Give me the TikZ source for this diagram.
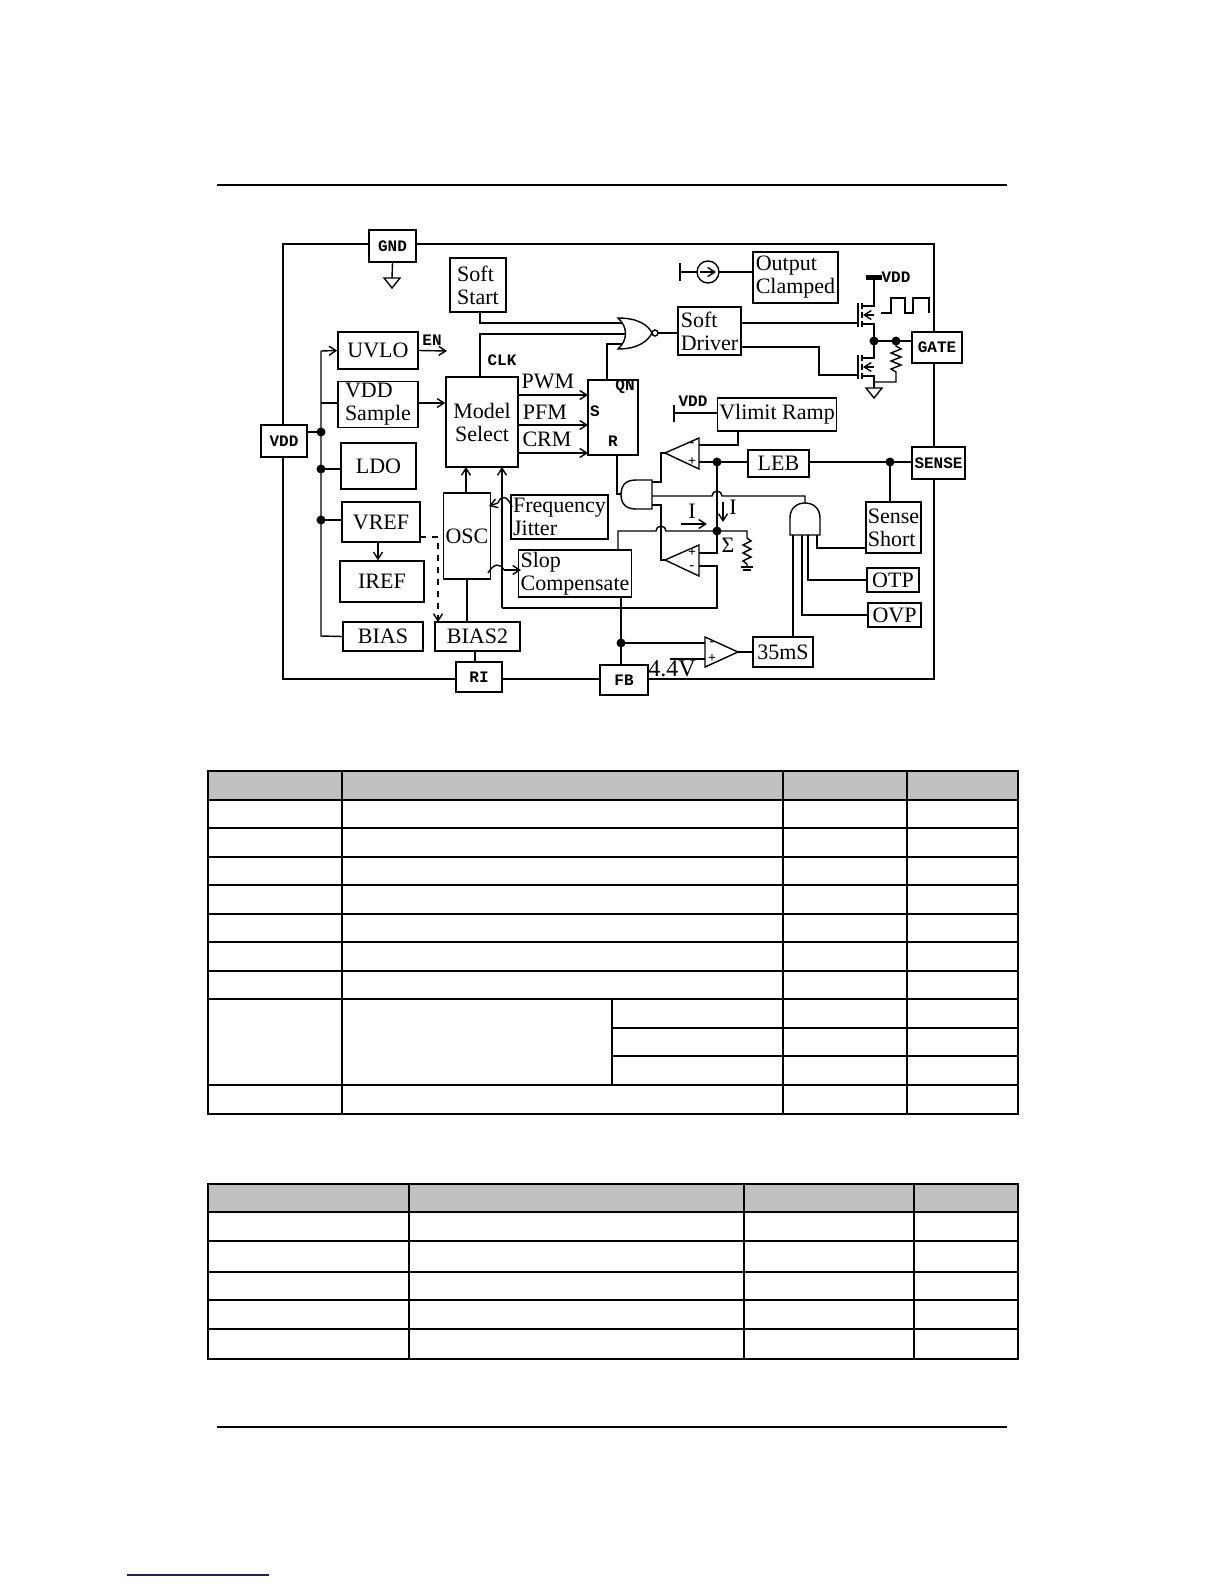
\documentclass[tikz,border=0pt]{standalone}
\usepackage{fontspec}
\setmainfont{Liberation Serif}
\newfontfamily\monof{Liberation Mono}
\usetikzlibrary{arrows.meta}
\definecolor{hdr}{HTML}{C0C0C0}
\definecolor{lnk}{HTML}{1A1A80}
\newcommand\bx[7][box]{\node[#1, minimum width={(#5-#3)*0.5pt}, minimum height={(#6-#4)*0.5pt}] (#2) at ({(#3+#5)/2},{(#4+#6)/2}) {#7};}
\begin{document}
\begin{tikzpicture}[x=0.5pt,y=-0.5pt, line width=0.7pt,
 box/.style={draw, fill=white, inner sep=1pt, font=\fontsize{11}{11.5}\selectfont, align=left},
 cbox/.style={box, align=center},
 pin/.style={draw, fill=white, inner sep=1pt, font=\monof\bfseries\fontsize{8}{9}\selectfont},
 lbl/.style={inner sep=0, font=\fontsize{11}{11.5}\selectfont},
 mlbl/.style={inner sep=0, font=\monof\bfseries\fontsize{8}{9}\selectfont},
 sgn/.style={inner sep=0, font=\bfseries\fontsize{7}{7}\selectfont},
 arr/.style={-{Straight Barb[length=3.5pt,width=4.5pt]}},
 dot/.style={circle, fill, inner sep=0, minimum size=4.5pt},
 tbl/.style={line width=1pt}]
\useasboundingbox (0,0) rectangle (1224,1584);
% rules
\draw[line width=1.3pt] (217,185) -- (1007,185);
\draw[line width=1.3pt] (217,1427) -- (1007,1427);
\draw[lnk, line width=0.6pt] (127,1575) -- (269,1575);
% outer border
\draw (283,244) rectangle (934,679);
% pins
\bx[pin]{gnd}{369}{230}{416}{262}{GND}
\bx[pin]{vdd}{261}{425}{307}{457}{VDD}
\bx[pin]{ri}{456}{662}{502}{692}{RI}
\bx[pin]{fb}{600}{665}{648}{695}{FB}
\bx[pin]{gate}{912}{332}{962}{363}{GATE}
\bx[pin]{sense}{912}{447}{965}{479}{SENSE}
% blocks
\bx{softstart}{450}{258}{506}{312}{Soft\\Start}
\bx{outclamp}{753}{252}{838}{303}{Output\\Clamped}
\bx[cbox]{uvlo}{338}{332}{418}{369}{UVLO}
\bx{vddsample}{338}{382}{418}{427}{VDD\\Sample}
\bx[cbox]{model}{446}{377}{518}{467}{Model\\Select}
\bx[cbox]{ldo}{341}{443}{416}{489}{LDO}
\bx{vref}{342}{502}{420}{542}{VREF}
\bx[cbox]{iref}{340}{561}{424}{602}{IREF}
\bx[cbox]{bias}{343}{622}{423}{651}{BIAS}
\bx[cbox]{bias2}{435}{622}{520}{651}{BIAS2}
\bx[cbox]{osc}{446}{493}{488}{579}{OSC}
\bx{jitter}{512}{495}{607}{539}{Frequency\\Jitter}
\bx{slop}{522}{550}{628}{597}{Slop\\Compensate}
\bx{sr}{588}{380}{638}{455}{}
\bx{softdrv}{678}{307}{741}{355}{Soft\\Driver}
\bx[cbox]{vlimit}{721}{398}{833}{431}{Vlimit Ramp}
\bx[cbox]{leb}{748}{450}{809}{477}{LEB}
\bx{sshort}{866}{502}{921}{553}{Sense\\Short}
\bx[cbox]{otp}{867}{568}{919}{592}{OTP}
\bx[cbox]{ovp}{868}{603}{921}{627}{OVP}
\bx[cbox]{ms35}{753}{637}{813}{667}{35mS}
% GND
\draw (gnd.south) -- (392,278);
\draw (384,278) -- (400,278) -- (392,288) -- cycle;
% VDD bus
\draw (vdd.east |- 0,432) -- (321,432);
\draw (321,351) -- (321,636) -- (bias.west);
\draw[arr] (321,351) -- (uvlo.west);
\draw (321,403) -- (vddsample.west |- 0,403);
\draw (321,469) -- (ldo.west |- 0,469);
\draw (321,520) -- (vref.west |- 0,520);
\node[dot] at (321,432) {}; \node[dot] at (321,469) {}; \node[dot] at (321,520) {};
\draw[arr] (uvlo.east) -- (447,351);
\node[mlbl] at (432,340) {EN};
\draw[arr] (vddsample.east |- 0,403) -- (model.west |- 0,403);
\draw[arr] (378,542) -- (iref.north -| 378,0);
\draw[dashed, arr] (420,537) -- (438,537) -- (438,622);
\draw[arr] (osc.north -| 466,0) -- (466,467);
\draw (osc.south -| 467,0) -- (bias2.north -| 467,0);
\draw (bias2.south -| 475,0) -- (ri.north -| 475,0);
% wavy arrows
\draw (512,507) .. controls (507,495) and (501,495) .. (498,503);
\draw[arr] (498,503) -- (489,506);
\draw (488,573) .. controls (494,563) and (500,563) .. (504,570);
\draw[arr] (504,570) -- (521,570);
\draw[arr] (502,608) -- (502,467);
\draw (502,608) -- (717,608) -- (717,566) -- (699,566);
% model outputs
\draw[arr] (518,395) -- (588,395);
\draw[arr] (518,425) -- (588,425);
\draw[arr] (518,453) -- (588,453);
\node[lbl] at (548,381) {PWM};
\node[lbl] at (545,412) {PFM};
\node[lbl] at (547,439) {CRM};
\node[mlbl] at (595,411) {S};
\node[mlbl] at (625,387) {QN};
\node[mlbl] at (613,441) {R};
\node[mlbl] at (502,360) {CLK};
% NOR inputs
\draw (480,377) -- (480,334) -- (626,334);
\draw (480,312) -- (480,323) -- (626,323);
\draw (607,380) -- (607,344) -- (626,344);
% NOR gate
\draw[fill=white] (618,318) .. controls (638,318) and (648,325) .. (652,333)
  .. controls (648,341) and (638,349) .. (618,349)
  .. controls (628,340) and (628,327) .. (618,318) -- cycle;
\draw (655,333) circle[radius=3];
\draw (658,333) -- (softdrv.west |- 0,333);
% current source
\draw (680,263) -- (680,281);
\draw (680,272) -- (697,272);
\draw (708,272) circle[radius=11];
\draw[arr] (700,272) -- (716,272);
\draw (719,272) -- (outclamp.west |- 0,272);
% MOSFETs
\draw (softdrv.east |- 0,323) -- (858,323);
\draw (858,303) -- (858,327);
\draw (862,303) -- (862,309) (862,312) -- (862,318) (862,321) -- (862,327);
\draw (862,306) -- (874,306) -- (874,277);
\draw[line width=2.5pt] (866,277) -- (882,277);
\node[mlbl] at (896,277) {VDD};
\draw (862,324) -- (874,324) -- (874,341);
\draw[arr] (874,315) -- (863,315);
\draw (softdrv.east |- 0,347) -- (819,347) -- (819,375) -- (858,375);
\draw (858,355) -- (858,379);
\draw (862,355) -- (862,361) (862,364) -- (862,370) (862,373) -- (862,379);
\draw (862,358) -- (874,358) -- (874,341);
\draw (862,376) -- (874,376) -- (874,388);
\draw[arr] (874,367) -- (863,367);
\draw (866,388) -- (882,388) -- (874,398) -- cycle;
\draw (874,341) -- (gate.west |- 0,341);
\node[dot] at (874,341) {}; \node[dot] at (896,341) {};
\draw (896,341) -- (896,346) -- (901,349) -- (891,353) -- (901,357) -- (891,361) -- (901,365) -- (891,369) -- (896,372) -- (896,382) -- (874,382);
\draw (881,313) -- (891,313) -- (891,298) -- (905,298) -- (905,313) -- (913,313) -- (913,298) -- (929,298) -- (929,313);
% Vlimit
\draw (674,405) -- (674,422);
\draw (674,413) -- (vlimit.west |- 0,413);
\node[mlbl] at (693,401) {VDD};
\draw (738,431) -- (738,445) -- (699,445);
% top comparator
\draw (699,438) -- (699,469) -- (665,453) -- cycle;
\node[sgn] at (692,445) {-}; \node[sgn] at (692,462) {+};
\draw (699,462) -- (leb.west |- 0,462);
\draw (leb.east |- 0,462) -- (sense.west |- 0,462);
\node[dot] at (717,462) {}; \node[dot] at (890,462) {};
\draw (890,462) -- (sshort.north -| 890,0);
\draw (665,453) -- (661,453) -- (661,482) -- (652,482);
% left AND gate
\draw (652,480) -- (636,480) .. controls (624,480) and (621,487) .. (621,494)
  .. controls (621,502) and (624,509) .. (636,509) -- (652,509) -- cycle;
\draw (621,494) -- (617,494) -- (617,455);
\draw (652,496) -- (712,496) arc[start angle=180, end angle=360, radius=5] -- (805,496) -- (805,503);
\draw (717,462) -- (717,553) -- (699,553);
\node[dot] at (717,531) {};
\draw (652,505) -- (661,505) -- (661,560) -- (665,560);
\draw (618,550) -- (618,531) -- (656,531) arc[start angle=180, end angle=360, radius=5] -- (717,531);
% lower comparator
\draw (699,545) -- (699,576) -- (665,560) -- cycle;
\node[sgn] at (692,553) {+}; \node[sgn] at (692,568) {-};
\draw[arr] (723,502) -- (723,522);
\node[lbl] at (733,507) {I};
\draw[arr] (681,524) -- (707,524);
\node[lbl] at (692,511) {I};
\node[lbl] at (728,545) {Σ};
\draw (717,531) -- (747,531) -- (747,538) -- (751,541) -- (743,545) -- (751,549) -- (743,553) -- (751,557) -- (743,561) -- (747,564) -- (747,567);
\draw (741,567) -- (753,567) (743,570) -- (751,570);
% vertical AND gate
\draw (790,535) -- (790,518) .. controls (790,508) and (797,503) .. (805,503)
  .. controls (813,503) and (820,508) .. (820,518) -- (820,535) -- cycle;
\draw (793,535) -- (793,637);
\draw (802,535) -- (802,615) -- (ovp.west |- 0,615);
\draw (808,535) -- (808,580) -- (otp.west |- 0,580);
\draw (817,535) -- (817,548) -- (sshort.west |- 0,548);
% bottom comparator
\draw (705,637) -- (705,667) -- (738,652) -- cycle;
\node[sgn] at (712,644) {-}; \node[sgn] at (712,659) {+};
\draw (738,652) -- (ms35.west);
\draw (621,597) -- (fb.north -| 621,0);
\node[dot] at (621,643) {};
\draw (621,643) -- (705,643);
\draw (670,659) -- (705,659);
\node[lbl, font=\fontsize{12}{12}\selectfont] at (672,669) {4.4V};
% table 1
\fill[hdr] (208,771) rectangle (1018,800);
\begin{scope}[tbl]
\draw (208,771) rectangle (1018,1114);
\foreach \y in {800,828,857,885,914,942,971,999,1085} \draw (208,\y) -- (1018,\y);
\foreach \y in {1028,1056} \draw (612,\y) -- (1018,\y);
\draw (612,999) -- (612,1085);
\foreach \x in {342,783,907} \draw (\x,771) -- (\x,1114);
\end{scope}
% table 2
\fill[hdr] (208,1184) rectangle (1018,1212);
\begin{scope}[tbl]
\draw (208,1184) rectangle (1018,1359);
\foreach \y in {1212,1241,1272,1300,1329} \draw (208,\y) -- (1018,\y);
\foreach \x in {409,744,914} \draw (\x,1184) -- (\x,1359);
\end{scope}
\end{tikzpicture}
\end{document}
